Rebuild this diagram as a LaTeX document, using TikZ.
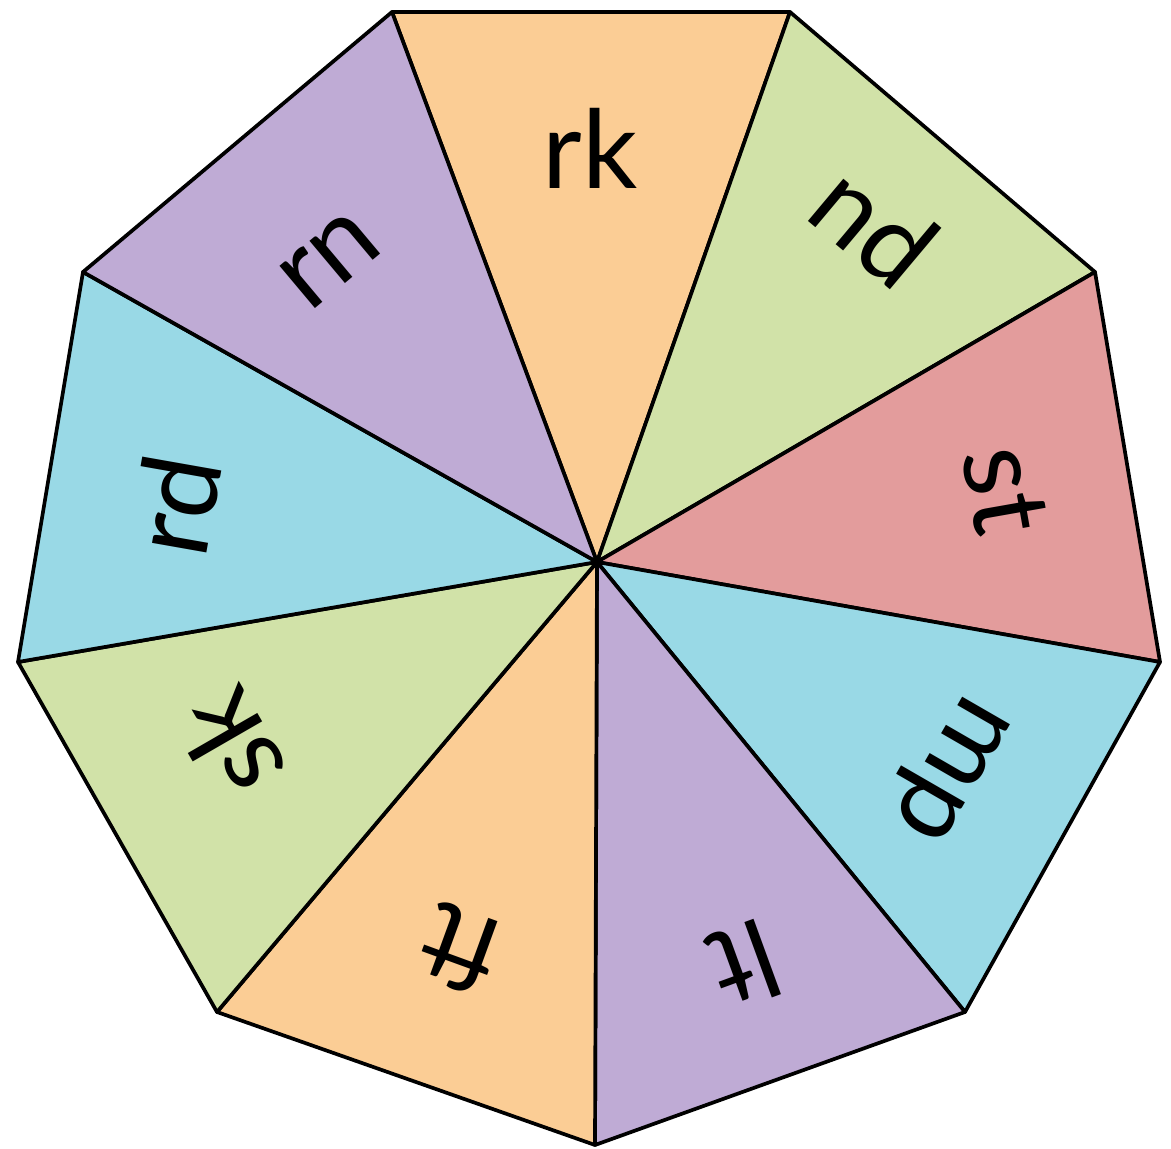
\documentclass[tikz,border=0pt]{standalone}
\usepackage{fontspec}
\setmainfont{Lato}
\definecolor{cor}{HTML}{FBCD95}
\definecolor{cgr}{HTML}{D1E2A8}
\definecolor{cre}{HTML}{E39C9C}
\definecolor{cbl}{HTML}{99D9E6}
\definecolor{cpu}{HTML}{BFABD5}
\begin{document}
\begin{tikzpicture}[x=0.02cm,y=-0.02cm,
  tri/.style={draw=black,line width=2.1pt,line join=round},
  lab/.style={font=\fontsize{62}{70}\selectfont,inner sep=0pt}]
\useasboundingbox (0,0) rectangle (1171,1149);
\coordinate (C) at (597,562);
\coordinate (V1) at (392,12);
\coordinate (V2) at (790,12);
\coordinate (V3) at (1095,272);
\coordinate (V4) at (1160,662);
\coordinate (V5) at (965,1012);
\coordinate (V6) at (595,1145);
\coordinate (V7) at (217,1012);
\coordinate (V8) at (18,662);
\coordinate (V9) at (83,272);
\filldraw[tri,fill=cor] (C) -- (V1) -- (V2) -- cycle;
\filldraw[tri,fill=cgr] (C) -- (V2) -- (V3) -- cycle;
\filldraw[tri,fill=cre] (C) -- (V3) -- (V4) -- cycle;
\filldraw[tri,fill=cbl] (C) -- (V4) -- (V5) -- cycle;
\filldraw[tri,fill=cpu] (C) -- (V5) -- (V6) -- cycle;
\filldraw[tri,fill=cor] (C) -- (V6) -- (V7) -- cycle;
\filldraw[tri,fill=cgr] (C) -- (V7) -- (V8) -- cycle;
\filldraw[tri,fill=cbl] (C) -- (V8) -- (V9) -- cycle;
\filldraw[tri,fill=cpu] (C) -- (V9) -- (V1) -- cycle;
\node[lab,rotate=0] (rk) at (590,148) {rk};
\node[lab,rotate=-40] (nd) at (875,225) {nd};
\node[lab,rotate=-80] (st) at (1005,490) {st};
\node[lab,rotate=-120] (mp) at (945,765) {mp};
\node[lab,rotate=-160] (lt) at (745,965) {lt};
\node[lab,rotate=160] (ft) at (460,950) {ft};
\node[lab,rotate=120] (sk) at (230,745) {sk};
\node[lab,rotate=80] (rd) at (175,505) {rd};
\node[lab,rotate=40] (rn) at (330,260) {rn};
\end{tikzpicture}
\end{document}
